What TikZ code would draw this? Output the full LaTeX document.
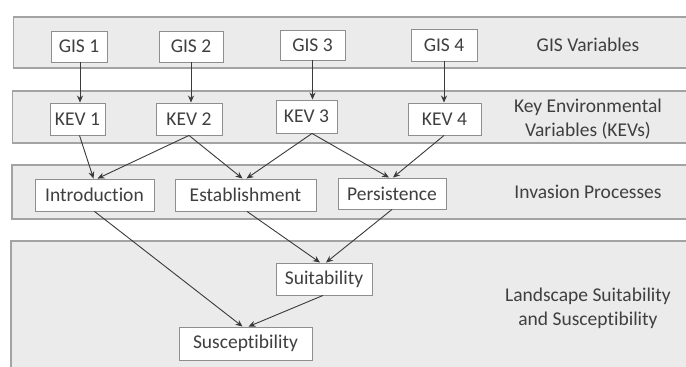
\documentclass[tikz,border=0pt]{standalone}
\usepackage{fontspec}
\setmainfont{Carlito}[Ligatures=NoCommon]
\usetikzlibrary{arrows.meta}
\definecolor{bandfill}{HTML}{EBEBEB}
\definecolor{bandline}{HTML}{A3A3A3}
\definecolor{boxline}{HTML}{8E8E8E}
\definecolor{txt}{HTML}{3F3F3F}
\definecolor{arrc}{HTML}{3A3A3A}
\tikzset{
  bandbg/.style={fill=bandfill},
  bandedge/.style={draw=bandline, line width=1.3pt},
  vbox/.style={draw=boxline, fill=white, line width=0.9pt, inner sep=0pt, text=txt,
    font=\fontsize{19.5}{22}\selectfont},
  lbl/.style={text=txt, align=center, font=\fontsize{19.5}{24}\selectfont},
  arr/.style={draw=arrc, line width=0.9pt, -{Stealth[length=7pt,width=6pt]}}
}
\begin{document}
\begin{tikzpicture}[x=1pt,y=-1pt]
\useasboundingbox (0,0) rectangle (686,367);
% bands
\fill[bandbg] (13.5,17) rectangle (700,68);
\draw[bandedge] (700,17) -- (13.5,17) -- (13.5,68) -- (700,68);
\fill[bandbg] (12.5,91) rectangle (700,143);
\draw[bandedge] (700,91) -- (12.5,91) -- (12.5,143) -- (700,143);
\fill[bandbg] (12,165) rectangle (700,219);
\draw[bandedge] (700,165) -- (12,165) -- (12,219) -- (700,219);
\fill[bandbg] (11,241) rectangle (700,380);
\draw[bandedge] (700,241) -- (11,241) -- (11,380);
% labels
\node[lbl] (lgis) at (588,45) {GIS Variables};
\node[lbl] (lkev) at (588,119) {Key Environmental\\Variables (KEVs)};
\node[lbl] (linv) at (588,192) {Invasion Processes};
\node[lbl] (llan) at (588,308) {Landscape Suitability\\and Susceptibility};
% boxes
\node[vbox, minimum width=56pt, minimum height=31pt] (gis1) at (79,46.5) {GIS 1};
\node[vbox, minimum width=64pt, minimum height=31pt] (gis2) at (191,46.5) {GIS 2};
\node[vbox, minimum width=65pt, minimum height=30pt] (gis3) at (312.5,45) {GIS 3};
\node[vbox, minimum width=66pt, minimum height=32pt] (gis4) at (444,45) {GIS 4};
\node[vbox, minimum width=55pt, minimum height=32pt] (kev1) at (77.5,119) {KEV 1};
\node[vbox, minimum width=66pt, minimum height=32pt] (kev2) at (189,119) {KEV 2};
\node[vbox, minimum width=61pt, minimum height=33pt] (kev3) at (306.5,116.5) {KEV 3};
\node[vbox, minimum width=73pt, minimum height=32pt] (kev4) at (444.5,119) {KEV 4};
\node[vbox, minimum width=119pt, minimum height=32pt] (intro) at (94.5,195) {Introduction};
\node[vbox, minimum width=141pt, minimum height=32pt] (estab) at (245.5,195) {Establishment};
\node[vbox, minimum width=108pt, minimum height=31pt] (pers) at (392,193.5) {Persistence};
\node[vbox, minimum width=96pt, minimum height=32pt] (suit) at (324,279) {Suitability};
\node[vbox, minimum width=133pt, minimum height=33pt] (susc) at (245.5,343.5) {Susceptibility};
% GIS -> KEV
\draw[arr] ([xshift=1pt]gis1.south) -- ([xshift=1pt]gis1.south |- kev1.north);
\draw[arr] (gis2.south) -- (gis2.south |- kev2.north);
\draw[arr] (gis3.south) -- (gis3.south |- kev3.north);
\draw[arr] (gis4.south) -- (gis4.south |- kev4.north);
% KEV -> processes
\draw[arr] ([xshift=2pt]kev1.south) -- ([xshift=-1pt]intro.north);
\draw[arr] (kev2.south) -- ([xshift=3pt]intro.north);
\draw[arr] (kev2.south) -- ([xshift=-3pt]estab.north);
\draw[arr] ([xshift=5.5pt]kev3.south) -- ([xshift=1pt]estab.north);
\draw[arr] ([xshift=5.5pt]kev3.south) -- ([xshift=-3pt]pers.north);
\draw[arr] ([xshift=-0.5pt]kev4.south) -- ([xshift=1pt]pers.north);
% processes -> landscape
\draw[arr] (intro.south) -- ([xshift=-3pt]susc.north);
\draw[arr] ([xshift=1.5pt]estab.south) -- ([xshift=-4pt]suit.north);
\draw[arr] (pers.south) -- ([xshift=2pt]suit.north);
\draw[arr] ([xshift=-1pt]suit.south) -- ([xshift=3pt]susc.north);
\end{tikzpicture}
\end{document}
